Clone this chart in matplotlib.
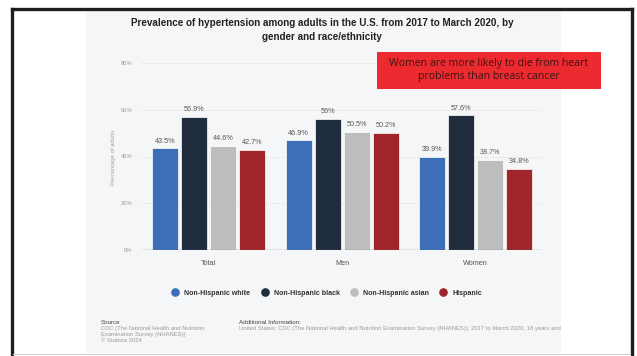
import numpy as np
import matplotlib
matplotlib.use("Agg")
import matplotlib.pyplot as plt
from matplotlib.patches import Rectangle
from matplotlib.lines import Line2D

plt.rcParams['font.family'] = ['Liberation Sans', 'DejaVu Sans']

# data
categories = ['Total', 'Men', 'Women']
series = ['Non-Hispanic white', 'Non-Hispanic black', 'Non-Hispanic asian', 'Hispanic']
white = [43.5, 46.9, 39.9]
black = [56.9, 56.0, 57.6]
asian = [44.6, 50.5, 38.7]
hispanic = [42.7, 50.2, 34.8]
labels = [['43.5%', '46.9%', '39.9%'],
          ['56.9%', '56%', '57.6%'],
          ['44.6%', '50.5%', '38.7%'],
          ['42.7%', '50.2%', '34.8%']]
yticks = [0, 20, 40, 60, 80]
colors = ['#3d6fb8', '#1f2d3e', '#bcbdbc', '#a0252a']

W, H = 637, 356
fig = plt.figure(figsize=(W / 100, H / 100), dpi=100)
fig.patch.set_facecolor('white')

def fx(px):
    return px / W

def fy(py):
    return 1 - py / H

# statista panel background
fig.add_artist(Rectangle((fx(86), fy(353)), fx(561) - fx(86), fy(10) - fy(353),
                         transform=fig.transFigure, facecolor='#f5f6f8',
                         edgecolor='none', zorder=0))

# slide frame
frame_kw = dict(transform=fig.transFigure, color='#1e1e1e', lw=2.4, zorder=5)
fig.add_artist(Line2D([fx(11.5), fx(632)], [fy(8.5), fy(8.5)], **frame_kw))
fig.add_artist(Line2D([fx(11.5), fx(11.5)], [fy(8.5), fy(356)], **frame_kw))
fig.add_artist(Line2D([fx(632), fx(632)], [fy(8.5), fy(356)], **frame_kw))
fig.add_artist(Line2D([fx(13), fx(630)], [fy(354), fy(354)], transform=fig.transFigure,
                      color='#d0d0d0', lw=0.8, zorder=5))

ax = fig.add_axes([fx(142), fy(250), fx(542) - fx(142), fy(63) - fy(250)])
ax.set_facecolor('none')

x = np.arange(len(categories))
pitch = 0.2175
width = 0.195
for i, vals in enumerate([white, black, asian, hispanic]):
    pos = x + (i - 1.5) * pitch
    ax.bar(pos, vals, width=width, color=colors[i], edgecolor='white',
           linewidth=0.5, zorder=3)
    for p, v, t in zip(pos, vals, labels[i]):
        ax.text(p, v + 1.6, t, ha='center', va='bottom', fontsize=5.2,
                color='#555555', zorder=4)

ax.set_xlim(-0.5, 2.5)
ax.set_ylim(0, 80)
ax.set_yticks(yticks)
ax.set_yticklabels([f'{t}%' for t in yticks], fontsize=4.2, color='#9a9a9a')
ax.set_xticks(x)
ax.set_xticklabels(categories, fontsize=5.2, color='#555555')
ax.tick_params(axis='both', length=0, pad=7)
for y in yticks[1:]:
    ax.axhline(y, color='#d6d6d6', lw=0.5, ls=(0, (2, 2)), zorder=1)
ax.axhline(0, color='#6a6a6a', lw=0.9, zorder=4)
for s in ax.spines.values():
    s.set_visible(False)

fig.text(fx(113), fy(157), 'Percentage of adults', rotation=90, ha='center',
         va='center', fontsize=4.3, color='#a0a0a0')

# title
fig.text(fx(322), fy(22.7), 'Prevalence of hypertension among adults in the U.S. from 2017 to March 2020, by',
         ha='center', va='center', fontsize=7.15, fontweight='bold', color='#222222')
fig.text(fx(322), fy(37.5), 'gender and race/ethnicity',
         ha='center', va='center', fontsize=7.15, fontweight='bold', color='#222222')

# legend
handles = [Line2D([], [], marker='o', ls='none', markersize=5.2,
                  markerfacecolor=c, markeredgecolor=c) for c in colors]
fig.legend(handles, series, loc='center', bbox_to_anchor=(fx(325), fy(293)),
           ncol=4, frameon=False, handletextpad=0.25,
           columnspacing=1.0, prop={'weight': 'bold', 'size': 5.15})
for t in fig.legends[0].get_texts():
    t.set_color('#333333')

# footer
fig.text(fx(101), fy(322), 'Source', fontsize=4.5, color='#444444', va='center')
fig.text(fx(101), fy(328.5), 'CDC (The National Health and Nutrition', fontsize=4.2,
         color='#9a9a9a', va='center')
fig.text(fx(101), fy(334.5), 'Examination Survey (NHANES))', fontsize=4.2,
         color='#9a9a9a', va='center')
fig.text(fx(101), fy(340.5), '\u00a9 Statista 2024', fontsize=4.2,
         color='#9a9a9a', va='center')
fig.text(fx(239), fy(322), 'Additional Information:', fontsize=4.5, color='#444444',
         va='center')
fig.text(fx(239), fy(328.5),
         'United States; CDC (The National Health and Nutrition Examination Survey (NHANES)); 2017 to March 2020; 18 years and older',
         fontsize=4.2, color='#9a9a9a', va='center')

# cover footer overflow past the panel
fig.add_artist(Rectangle((fx(561), fy(352)), fx(630) - fx(561), fy(300) - fy(352),
                         transform=fig.transFigure, facecolor='white',
                         edgecolor='none', zorder=4))

# red callout box
fig.add_artist(Rectangle((fx(377), fy(89)), fx(601) - fx(377), fy(52) - fy(89),
                         transform=fig.transFigure, facecolor='#ec2a30',
                         edgecolor='none', zorder=6))
fig.text(fx(489), fy(70), 'Women are more likely to die from heart\nproblems than breast cancer',
         ha='center', va='center', fontsize=7.6, color='#3a1414', linespacing=1.2,
         family=['Open Sans', 'DejaVu Sans'], zorder=7)

fig.savefig('out.png', dpi=100)
